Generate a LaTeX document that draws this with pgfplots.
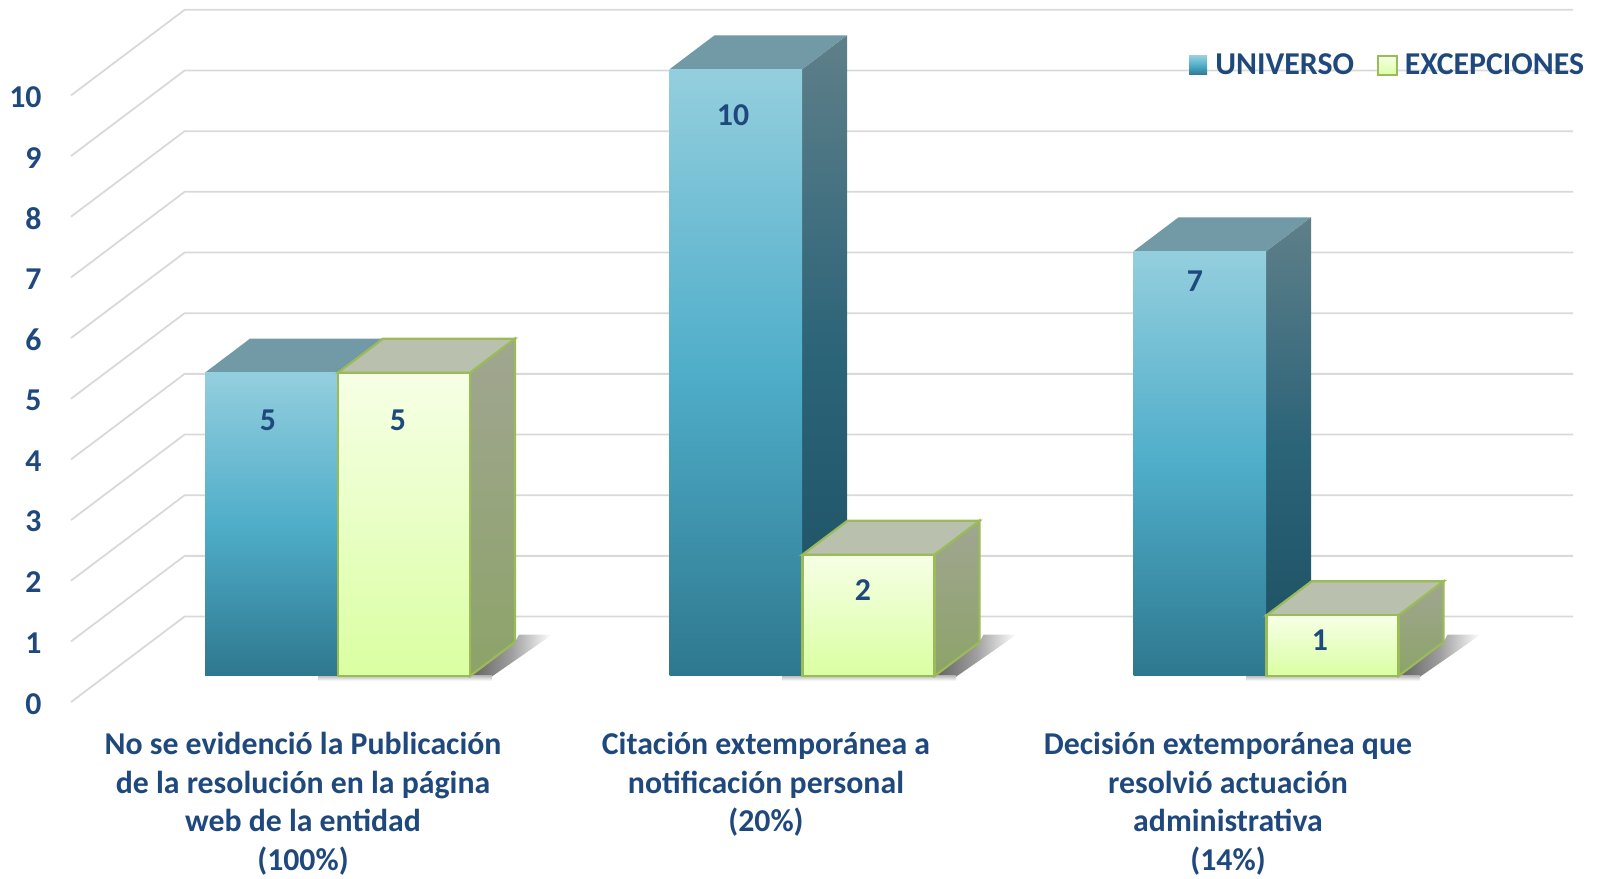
\documentclass[border=0pt]{standalone}
\usepackage{fontspec}
\setmainfont{Carlito}
\usepackage{pgfplots}
\pgfplotsset{compat=1.18}
\definecolor{txt}{HTML}{1F497D}
\definecolor{grd}{HTML}{D9D9D9}
\definecolor{gedge}{HTML}{9BBB59}
\definecolor{btop}{HTML}{7199A6}
\definecolor{gtop}{HTML}{B9C0AD}
\pgfdeclareverticalshading{bfront}{100bp}{rgb(0bp)=(0.18,0.47,0.56);rgb(25bp)=(0.18,0.47,0.56);rgb(50bp)=(0.31,0.68,0.79);rgb(75bp)=(0.58,0.81,0.87);rgb(100bp)=(0.58,0.81,0.87)}
\pgfdeclareverticalshading{bside}{100bp}{rgb(0bp)=(0.11,0.31,0.38);rgb(25bp)=(0.11,0.31,0.38);rgb(50bp)=(0.17,0.39,0.47);rgb(75bp)=(0.37,0.50,0.54);rgb(100bp)=(0.37,0.50,0.54)}
\pgfdeclareverticalshading{gfront}{100bp}{rgb(0bp)=(0.855,1,0.63);rgb(25bp)=(0.855,1,0.63);rgb(50bp)=(0.91,1,0.77);rgb(75bp)=(0.965,1,0.90);rgb(100bp)=(0.965,1,0.90)}
\pgfdeclareverticalshading{gside}{100bp}{rgb(0bp)=(0.55,0.64,0.41);rgb(25bp)=(0.55,0.64,0.41);rgb(75bp)=(0.63,0.65,0.57);rgb(100bp)=(0.63,0.65,0.57)}
\pgfdeclarehorizontalshading{flshadow}{100bp}{rgb(0bp)=(0.38,0.38,0.38);rgb(25bp)=(0.38,0.38,0.38);rgb(50bp)=(0.62,0.62,0.62);rgb(75bp)=(1,1,1);rgb(100bp)=(1,1,1)}
\pgfdeclareverticalshading{undershadow}{100bp}{rgb(0bp)=(1,1,1);rgb(25bp)=(1,1,1);rgb(75bp)=(0.75,0.75,0.75);rgb(100bp)=(0.75,0.75,0.75)}
\pgfplotsset{
  gl/.style={draw=grd,line width=0.9pt},
  bF/.style={draw=none,shade,shading=bfront},
  bS/.style={draw=none,shade,shading=bside},
  bT/.style={draw=none,fill=btop},
  gF/.style={draw=gedge,line width=1.1pt,shade,shading=gfront},
  gS/.style={draw=gedge,line width=1.1pt,shade,shading=gside},
  gT/.style={draw=gedge,line width=1.1pt,fill=gtop},
  sh/.style={draw=none,shade,shading=flshadow},
  us/.style={draw=none,shade,shading=undershadow},
}
\begin{document}
\begin{tikzpicture}
\begin{axis}[
  scale only axis,width=799.5pt,height=439pt,
  xmin=0,xmax=1599,ymin=-3.3295,ymax=11.142,
  axis line style={draw=none},
  major tick length=0pt,tick style={draw=none},
  ytick={-0.43,0.57,1.57,2.57,3.57,4.57,5.57,6.57,7.57,8.57,9.57},
  yticklabels={0,1,2,3,4,5,6,7,8,9,10},
  yticklabel style={anchor=east,inner sep=0pt,xshift=21pt,yshift=-0.8pt,text=txt,font=\fontsize{15.9}{18}\selectfont\bfseries},
  xtick={303,766,1228},
  xticklabels={
    {No se evidenció la Publicación\\de la resolución en la página\\web de la entidad\\(100\%)},
    {Citación extemporánea a\\notificación personal\\(20\%)},
    {Decisión extemporánea que\\resolvió actuación\\administrativa\\(14\%)}},
  xticklabel style={anchor=north,align=center,inner sep=0pt,yshift=73.2pt,text=txt,font=\fontsize{15.9}{19.4}\selectfont\bfseries},
  clip=false,
]
% wall and back grid lines
\addplot[gl] coordinates {(71,-0.43)(184.6,0.98)(1573,0.98)};
\addplot[gl] coordinates {(71,0.57)(184.6,1.98)(1573,1.98)};
\addplot[gl] coordinates {(71,1.57)(184.6,2.98)(1573,2.98)};
\addplot[gl] coordinates {(71,2.57)(184.6,3.98)(1573,3.98)};
\addplot[gl] coordinates {(71,3.57)(184.6,4.98)(1573,4.98)};
\addplot[gl] coordinates {(71,4.57)(184.6,5.98)(1573,5.98)};
\addplot[gl] coordinates {(71,5.57)(184.6,6.98)(1573,6.98)};
\addplot[gl] coordinates {(71,6.57)(184.6,7.98)(1573,7.98)};
\addplot[gl] coordinates {(71,7.57)(184.6,8.98)(1573,8.98)};
\addplot[gl] coordinates {(71,8.57)(184.6,9.98)(1573,9.98)};
\addplot[gl] coordinates {(71,9.57)(184.6,10.98)(1573,10.98)};
% floor shadows
\addplot[sh] coordinates {(470,0)(515,0.56)(519,0.68)(552,0.68)(490,-0.03)} -- cycle;
\addplot[us] coordinates {(318,-0.08)(492,-0.08)(492,0)(318,0)} -- cycle;
\addplot[sh] coordinates {(934.5,0)(979.5,0.56)(983.5,0.68)(1016.5,0.68)(954.5,-0.03)} -- cycle;
\addplot[us] coordinates {(782,-0.08)(956,-0.08)(956,0)(782,0)} -- cycle;
\addplot[sh] coordinates {(1398.5,0)(1443.5,0.56)(1447.5,0.68)(1480.5,0.68)(1418.5,-0.03)} -- cycle;
\addplot[us] coordinates {(1246,-0.08)(1420,-0.08)(1420,0)(1246,0)} -- cycle;
% group 1
\addplot[bT] coordinates {(205,5)(250,5.56)(383,5.56)(338,5)} -- cycle;
\addplot[bF] coordinates {(205,0)(338,0)(338,5)(205,5)} -- cycle;
\addplot[gS] coordinates {(470,0)(515,0.56)(515,5.56)(470,5)} -- cycle;
\addplot[gT] coordinates {(338,5)(383,5.56)(515,5.56)(470,5)} -- cycle;
\addplot[gF] coordinates {(338,0)(470,0)(470,5)(338,5)} -- cycle;
% group 2
\addplot[bS] coordinates {(802,0)(847,0.56)(847,10.56)(802,10)} -- cycle;
\addplot[bT] coordinates {(669.5,10)(714.5,10.56)(847,10.56)(802,10)} -- cycle;
\addplot[bF] coordinates {(669.5,0)(802,0)(802,10)(669.5,10)} -- cycle;
\addplot[gS] coordinates {(934.5,0)(979.5,0.56)(979.5,2.56)(934.5,2)} -- cycle;
\addplot[gT] coordinates {(802.5,2)(847.5,2.56)(979.5,2.56)(934.5,2)} -- cycle;
\addplot[gF] coordinates {(802.5,0)(934.5,0)(934.5,2)(802.5,2)} -- cycle;
% group 3
\addplot[bS] coordinates {(1266,0)(1311,0.56)(1311,7.56)(1266,7)} -- cycle;
\addplot[bT] coordinates {(1133.5,7)(1178.5,7.56)(1311,7.56)(1266,7)} -- cycle;
\addplot[bF] coordinates {(1133.5,0)(1266,0)(1266,7)(1133.5,7)} -- cycle;
\addplot[gS] coordinates {(1398.5,0)(1443.5,0.56)(1443.5,1.56)(1398.5,1)} -- cycle;
\addplot[gT] coordinates {(1266.5,1)(1311.5,1.56)(1443.5,1.56)(1398.5,1)} -- cycle;
\addplot[gF] coordinates {(1266.5,0)(1398.5,0)(1398.5,1)(1266.5,1)} -- cycle;
% value labels
\addplot[draw=none,mark=none,point meta=explicit symbolic,nodes near coords,
  nodes near coords align={center},
  every node near coord/.append style={text=txt,inner sep=0pt,font=\fontsize{15.9}{18}\selectfont\bfseries}]
  coordinates {(268,4.22)[5] (398,4.22)[5] (733,9.24)[10] (863,1.41)[2] (1195,6.51)[7] (1320,0.59)[1]};
% legend
\addplot[bF] coordinates {(1189,9.906)(1207,9.906)(1207,10.22)(1189,10.22)} -- cycle;
\addplot[gF] coordinates {(1378,9.906)(1397,9.906)(1397,10.22)(1378,10.22)} -- cycle;
\node[anchor=base west,inner sep=0pt,text=txt,font=\fontsize{15.9}{18}\selectfont\bfseries] at (axis cs:1215,9.906) {UNIVERSO};
\node[anchor=base west,inner sep=0pt,text=txt,font=\fontsize{15.9}{18}\selectfont\bfseries] at (axis cs:1404.5,9.906) {EXCEPCIONES};
\end{axis}
\end{tikzpicture}
\end{document}
